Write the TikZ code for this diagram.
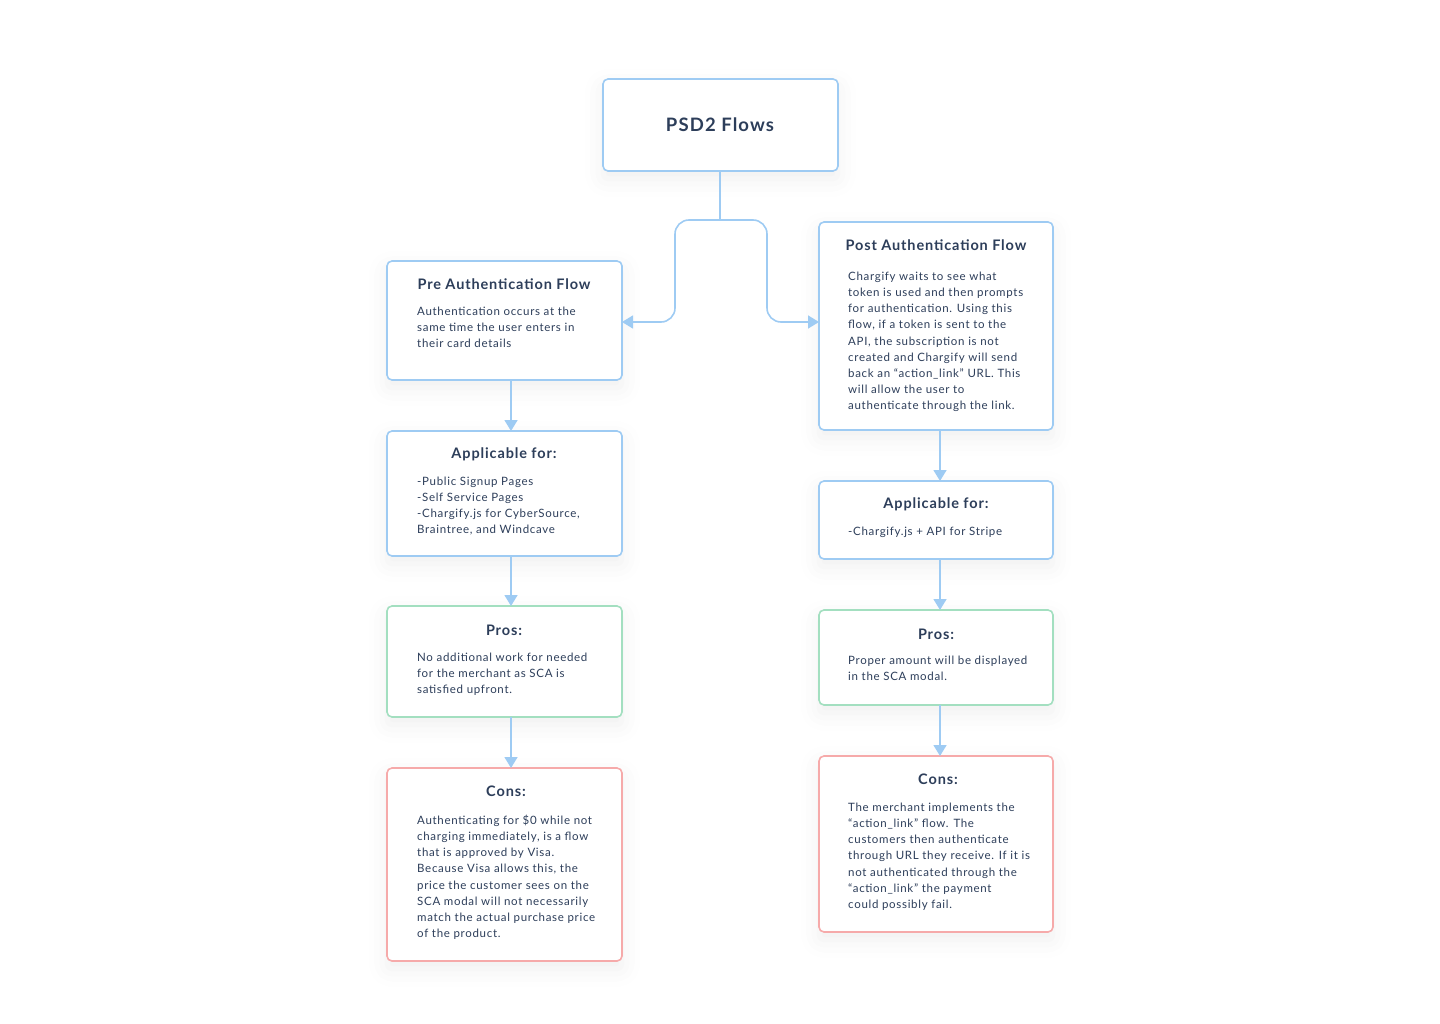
\documentclass[tikz,border=0pt]{standalone}
\usepackage{fontspec}
\setmainfont{Lato}[LetterSpace=6]
\usetikzlibrary{arrows.meta,shadows.blur}
\definecolor{edge}{HTML}{9ECBF3}
\definecolor{txt}{HTML}{2D3E5A}
\definecolor{grn}{HTML}{A3DFC0}
\definecolor{red}{HTML}{F6AAAA}
\tikzset{
  box/.style={draw=edge,line width=1.6pt,rounded corners=5pt,fill=white,blur shadow={shadow xshift=0pt,shadow yshift=-8pt,shadow blur radius=18pt,shadow opacity=6}},
  ttl/.style={font=\fontsize{14.5}{17}\selectfont\bfseries,text=txt,anchor=center},
  body/.style={font=\fontsize{11.5}{16.1}\selectfont,text=txt,anchor=north west,align=left,inner sep=0pt},
  conn/.style={draw=edge,line width=1.6pt,-{Triangle[length=11pt,width=13pt]}},
}
\begin{document}
\begin{tikzpicture}[x=1pt,y=-1pt]
\useasboundingbox (0,0) rectangle (1440,1024);
% boxes
\path[box] (603,79) rectangle (838,171);
\node[coordinate] (top) at (720,171) {};
\path[box] (387,261) rectangle (622,380);
\path[box] (387,431) rectangle (622,556);
\path[box,draw=grn] (387,606) rectangle (622,717);
\path[box,draw=red] (387,768) rectangle (622,961);
\path[box] (819,222) rectangle (1053,430);
\path[box] (819,481) rectangle (1053,559);
\path[box,draw=grn] (819,610) rectangle (1053,705);
\path[box,draw=red] (819,756) rectangle (1053,932);
% anchors
\node[coordinate] (preL) at (622,322) {};
\node[coordinate] (postL) at (819,322) {};
\node[coordinate] (split) at (720,220) {};
% texts
\node[ttl,font=\fontsize{18.5}{20}\selectfont\bfseries] (t0) at (720,125) {PSD2 Flows};
\node[ttl] (t1) at (504,284) {Pre Authentication Flow};
\node[body] (b1) at (417,307) {Authentication occurs at the\\same time the user enters in\\their card details};
\node[ttl] (t2) at (504,454) {Applicable for:};
\node[body] (b2) at (417,477) {-Public Signup Pages\\-Self Service Pages\\-Chargify.js for CyberSource,\\Braintree, and Windcave};
\node[ttl] (t3) at (504,630) {Pros:};
\node[body] (b3) at (417,653) {No additional work for needed\\for the merchant as SCA is\\satisfied upfront.};
\node[ttl] (t4) at (506,791) {Cons:};
\node[body] (b4) at (417,815) {Authenticating for \$0 while not\\charging immediately, is a flow\\that is approved by Visa.\\Because Visa allows this, the\\price the customer sees on the\\SCA modal will not necessarily\\match the actual purchase price\\of the product.};
\node[ttl] (t5) at (936,245) {Post Authentication Flow};
\node[body] (b5) at (848,272) {Chargify waits to see what\\token is used and then prompts\\for authentication. Using this\\flow, if a token is sent to the\\API, the subscription is not\\created and Chargify will send\\back an “action\_link” URL. This\\will allow the user to\\authenticate through the link.};
\node[ttl] (t6) at (936,504) {Applicable for:};
\node[body] (b6) at (848,527) {-Chargify.js + API for Stripe};
\node[ttl] (t7) at (936,634) {Pros:};
\node[body] (b7) at (848,656) {Proper amount will be displayed\\in the SCA modal.};
\node[ttl] (t8) at (938,779) {Cons:};
\node[body] (b8) at (848,803) {The merchant implements the\\“action\_link” flow. The\\customers then authenticate\\through URL they receive. If it is\\not authenticated through the\\“action\_link” the payment\\could possibly fail.};
% connectors
\draw[draw=edge,line width=1.6pt] (top) -- (split);
\draw[conn,rounded corners=14pt] (split) -- (675,220) -- (675,322) -- (preL);
\draw[conn,rounded corners=14pt] (split) -- (767,220) -- (767,322) -- (postL);
\node[coordinate] (a1) at (511,380) {}; \node[coordinate] (a2) at (511,431) {};
\node[coordinate] (a3) at (511,556) {}; \node[coordinate] (a4) at (511,606) {};
\node[coordinate] (a5) at (511,717) {}; \node[coordinate] (a6) at (511,768) {};
\node[coordinate] (c1) at (940,430) {}; \node[coordinate] (c2) at (940,481) {};
\node[coordinate] (c3) at (940,559) {}; \node[coordinate] (c4) at (940,610) {};
\node[coordinate] (c5) at (940,705) {}; \node[coordinate] (c6) at (940,756) {};
\draw[conn] (a1) -- (a2); \draw[conn] (a3) -- (a4); \draw[conn] (a5) -- (a6);
\draw[conn] (c1) -- (c2); \draw[conn] (c3) -- (c4); \draw[conn] (c5) -- (c6);
\end{tikzpicture}
\end{document}
